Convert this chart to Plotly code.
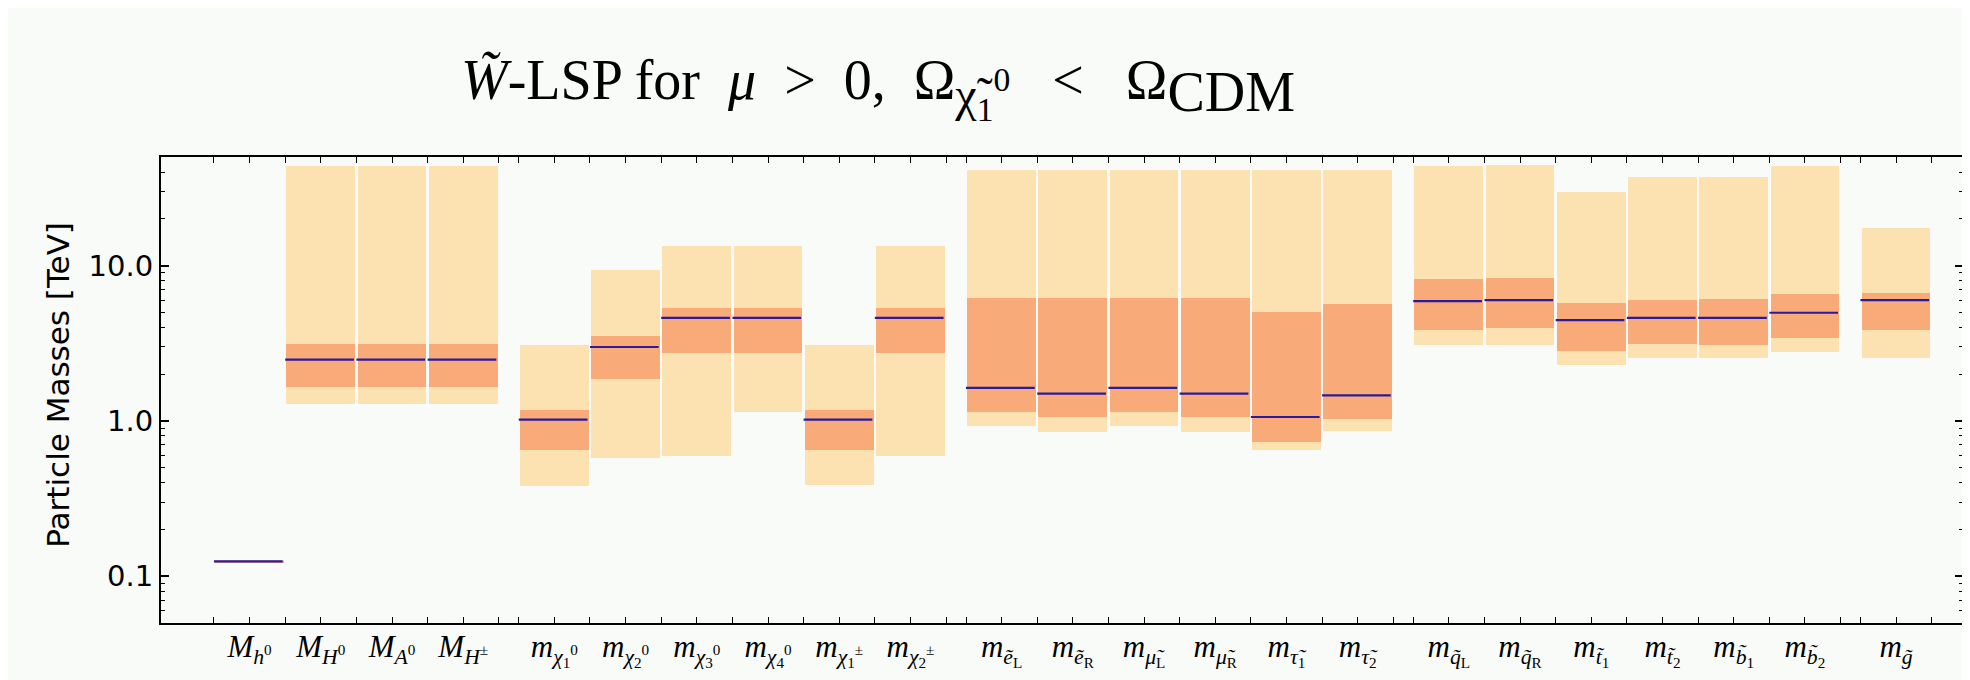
import plotly.graph_objects as go

# ---------------- data ----------------
labels = [
    "<i>M</i><sub><i>h</i><sup>0</sup></sub>",
    "<i>M</i><sub><i>H</i><sup>0</sup></sub>",
    "<i>M</i><sub><i>A</i><sup>0</sup></sub>",
    "<i>M</i><sub><i>H</i><sup>±</sup></sub>",
    "<i>m</i><sub><i>χ</i><sub>1</sub><sup>0</sup></sub>",
    "<i>m</i><sub><i>χ</i><sub>2</sub><sup>0</sup></sub>",
    "<i>m</i><sub><i>χ</i><sub>3</sub><sup>0</sup></sub>",
    "<i>m</i><sub><i>χ</i><sub>4</sub><sup>0</sup></sub>",
    "<i>m</i><sub><i>χ</i><sub>1</sub><sup>±</sup></sub>",
    "<i>m</i><sub><i>χ</i><sub>2</sub><sup>±</sup></sub>",
    "<i>m</i><sub><i>ẽ</i><sub>L</sub></sub>",
    "<i>m</i><sub><i>ẽ</i><sub>R</sub></sub>",
    "<i>m</i><sub><i>μ̃</i><sub>L</sub></sub>",
    "<i>m</i><sub><i>μ̃</i><sub>R</sub></sub>",
    "<i>m</i><sub><i>τ̃</i><sub>1</sub></sub>",
    "<i>m</i><sub><i>τ̃</i><sub>2</sub></sub>",
    "<i>m</i><sub><i>q̃</i><sub>L</sub></sub>",
    "<i>m</i><sub><i>q̃</i><sub>R</sub></sub>",
    "<i>m</i><sub><i>t̃</i><sub>1</sub></sub>",
    "<i>m</i><sub><i>t̃</i><sub>2</sub></sub>",
    "<i>m</i><sub><i>b̃</i><sub>1</sub></sub>",
    "<i>m</i><sub><i>b̃</i><sub>2</sub></sub>",
    "<i>m</i><sub><i>g̃</i></sub>",
]

outer_lo = [0.122, 1.29, 1.29, 1.29, 0.382, 0.577, 0.592, 1.14, 0.385, 0.592,
            0.925, 0.85, 0.925, 0.85, 0.653, 0.86,
            3.08, 3.08, 2.29, 2.55, 2.53, 2.78, 2.55]
outer_hi = [0.127, 43.9, 43.9, 43.9, 3.06, 9.37, 13.4, 13.4, 3.06, 13.4,
            41.3, 41.3, 41.3, 41.3, 41.3, 41.3,
            43.9, 44.5, 29.9, 37.3, 37.3, 43.9, 17.5]
inner_lo = [0.123, 1.66, 1.66, 1.66, 0.65, 1.87, 2.74, 2.74, 0.65, 2.74,
            1.14, 1.06, 1.14, 1.06, 0.728, 1.03,
            3.82, 3.94, 2.81, 3.14, 3.08, 3.43, 3.84]
inner_hi = [0.126, 3.15, 3.15, 3.15, 1.18, 3.50, 5.35, 5.35, 1.18, 5.35,
            6.21, 6.21, 6.21, 6.21, 5.04, 5.68,
            8.15, 8.27, 5.71, 6.0, 6.12, 6.52, 6.7]
central = [0.1245, 2.48, 2.48, 2.48, 1.02, 2.99, 4.61, 4.61, 1.02, 4.61,
           1.63, 1.50, 1.63, 1.50, 1.06, 1.46,
           5.91, 6.0, 4.46, 4.61, 4.61, 4.97, 6.0]

group_sizes = [4, 6, 6, 6, 1]
group_gap = 0.28

# ---------------- layout of categories ----------------
lefts = []
pos = 0.0
for gs in group_sizes:
    for i in range(gs):
        lefts.append(pos + i)
    pos += gs + group_gap
centers = [l + 0.5 for l in lefts]
edges = sorted(set([round(l, 3) for l in lefts] + [round(l + 1, 3) for l in lefts]))

LIGHT = "#fbe2b0"
DARK = "#f8aa78"
BLUE = "#2a1a9e"
BG = "#f9fbf8"

fig = go.Figure()
fig.add_trace(go.Bar(
    x=centers, base=outer_lo, y=[h - l for h, l in zip(outer_hi, outer_lo)],
    width=0.965, marker=dict(color=LIGHT, line=dict(width=0)), showlegend=False,
    hoverinfo="skip"))
fig.add_trace(go.Bar(
    x=centers, base=inner_lo, y=[h - l for h, l in zip(inner_hi, inner_lo)],
    width=0.965, marker=dict(color=DARK, line=dict(width=0)), showlegend=False,
    hoverinfo="skip"))

lx, ly = [], []
for l, c in zip(lefts, central):
    lx += [l, l + 0.965, None]
    ly += [c, c, None]
fig.add_trace(go.Scatter(x=lx, y=ly, mode="lines",
                         line=dict(color=BLUE, width=2.2), showlegend=False,
                         hoverinfo="skip"))

yminor = [v * m for m in (0.01, 0.1, 1, 10) for v in range(2, 10)]
yminor = [v for v in yminor if 0.05 <= v <= 50]

sp = "\u2002"
title = ("<i>W̃</i>-LSP for" + sp + "<i>μ</i>" + sp + "&gt;" + sp + "0," + sp +
         "Ω<sub><span style='font-size:48px'>χ̃<sub>1</sub><sup>0</sup></span></sub>"
         + sp + " &lt;" + sp + " " +
         "Ω<sub><span style='font-size:56px'>CDM</span></sub>")

fig.update_layout(
    width=1970, height=680,
    margin=dict(l=153, r=15, t=149, b=65),
    paper_bgcolor=BG, plot_bgcolor=BG,
    barmode="overlay", bargap=0,
    showlegend=False,
    xaxis=dict(
        range=[-0.744, 24.56],
        tickmode="array", tickvals=centers, ticktext=labels,
        ticks="inside", ticklen=6, tickwidth=1, tickcolor="black",
        ticklabelstandoff=-5,
        showline=True, linecolor="black", linewidth=2, mirror="ticks",
        showgrid=False, zeroline=False,
        tickfont=dict(family="Liberation Serif", size=31, color="black"),
        minor=dict(tickmode="array", tickvals=edges, ticks="inside",
                   ticklen=6, tickwidth=1, tickcolor="black", showgrid=False),
    ),
    yaxis=dict(
        type="log", range=[-1.30103, 1.69897],
        tickmode="array", tickvals=[0.1, 1, 10], ticktext=["0.1", "1.0", "10.0"],
        ticks="inside", ticklen=8, tickwidth=1.5, tickcolor="black",
        showline=True, linecolor="black", linewidth=2, mirror="ticks",
        showgrid=False, zeroline=False,
        tickfont=dict(family="DejaVu Sans", size=29, color="black"),
        minor=dict(tickmode="array", tickvals=yminor, ticks="inside",
                   ticklen=4, tickwidth=1, tickcolor="black", showgrid=False),
    ),
    annotations=[
        dict(text="Particle Masses [TeV]", textangle=-90,
             xref="paper", yref="paper", x=-0.057, y=0.512,
             xanchor="center", yanchor="middle", showarrow=False,
             font=dict(family="DejaVu Sans", size=31, color="black")),
        dict(text=title,
             xref="paper", yref="paper", x=0.398, y=1.0 + (149 - 80) / 466,
             xanchor="center", yanchor="middle", showarrow=False,
             font=dict(family="Liberation Serif", size=56, color="black")),
    ],
)

fig.write_html("out.html")
